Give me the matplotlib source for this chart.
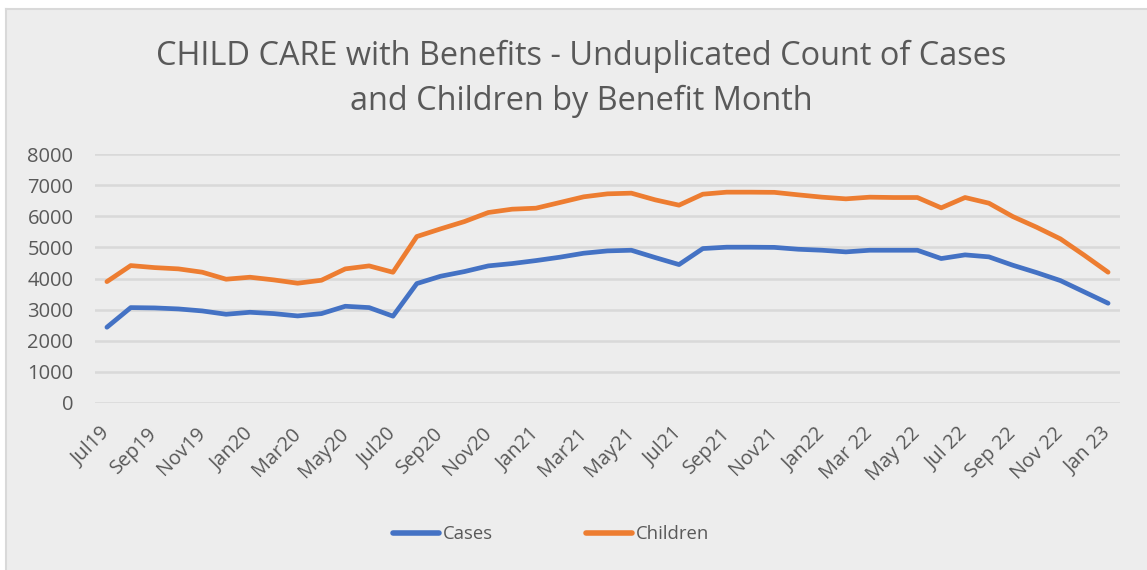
import matplotlib
matplotlib.use("Agg")
import matplotlib.pyplot as plt
from matplotlib.patches import Rectangle
from matplotlib.lines import Line2D
from matplotlib.transforms import ScaledTranslation

# Benefit months, Jul 2019 .. Jan 2023
months = [
    "Jul19", "Aug19", "Sep19", "Oct19", "Nov19", "Dec19",
    "Jan20", "Feb20", "Mar20", "Apr20", "May20", "Jun20",
    "Jul20", "Aug20", "Sep20", "Oct20", "Nov20", "Dec20",
    "Jan21", "Feb21", "Mar21", "Apr21", "May21", "Jun21",
    "Jul21", "Aug21", "Sep21", "Oct21", "Nov21", "Dec21",
    "Jan22", "Feb22", "Mar 22", "Apr 22", "May 22", "Jun 22",
    "Jul 22", "Aug 22", "Sep 22", "Oct 22", "Nov 22", "Dec 22",
    "Jan 23",
]

cases = [
    2434, 3065, 3055, 3022, 2958, 2851, 2915, 2872, 2797, 2872, 3108, 3065,
    2790, 3837, 4073, 4223, 4405, 4480, 4576, 4684, 4812, 4887, 4908, 4673,
    4448, 4962, 5006, 5006, 5000, 4940, 4908, 4855, 4908, 4908, 4908, 4641,
    4759, 4695, 4427, 4190, 3933, 3569, 3205,
]

children = [
    3900, 4415, 4350, 4309, 4202, 3977, 4041, 3955, 3848, 3944, 4309, 4405,
    4200, 5348, 5595, 5830, 6120, 6227, 6259, 6441, 6624, 6720, 6742, 6527,
    6356, 6709, 6774, 6774, 6768, 6688, 6613, 6559, 6613, 6602, 6602, 6270,
    6602, 6420, 5991, 5648, 5273, 4748, 4202,
]

title_lines = ["CHILD CARE with Benefits - Unduplicated Count of Cases",
               "and Children by Benefit Month"]
y_ticks = [0, 1000, 2000, 3000, 4000, 5000, 6000, 7000, 8000]

BLUE = "#4472C4"
ORANGE = "#ED7D31"
TEXT = "#595959"
GRID = "#D9D9D9"
BG = "#EDEDED"

plt.rcParams["font.family"] = ["Open Sans", "DejaVu Sans"]

W, H = 1147, 570
fig = plt.figure(figsize=(W / 100, H / 100), dpi=100)
fig.patch.set_facecolor("white")

# chart area panel with a thin border on the left and top
x0, y0 = 6 / W, 1 - 9 / H
fig.patches.append(Rectangle((x0, 0), 1 - x0, y0, transform=fig.transFigure,
                             facecolor=BG, edgecolor="none", zorder=-10))
fig.lines.append(Line2D([x0, x0], [0, y0], transform=fig.transFigure,
                        color=GRID, lw=1.5, zorder=-9))
fig.lines.append(Line2D([x0, 1], [y0, y0], transform=fig.transFigure,
                        color=GRID, lw=1.5, zorder=-9))

ax = fig.add_axes([95 / W, 1 - 403 / H, (1120 - 95) / W, (403 - 154) / H])
ax.patch.set_visible(False)

xs = list(range(len(months)))
ax.plot(xs, cases, color=BLUE, lw=3.4, solid_capstyle="round",
        solid_joinstyle="round", label="Cases", zorder=3)
ax.plot(xs, children, color=ORANGE, lw=3.4, solid_capstyle="round",
        solid_joinstyle="round", label="Children", zorder=3)

ax.set_xlim(-0.5, len(months) - 0.5)
ax.set_ylim(0, 8000)
ax.set_yticks(y_ticks)
ax.set_yticklabels([str(v) for v in y_ticks])
ax.yaxis.grid(True, color=GRID, lw=1.8)
ax.set_axisbelow(True)

ax.set_xticks(xs[::2])
ax.set_xticklabels(months[::2], rotation=45, ha="right", va="center",
                   rotation_mode="anchor")
shift = ScaledTranslation(2 / 100, 0, fig.dpi_scale_trans)
for lbl in ax.get_xticklabels():
    lbl.set_transform(lbl.get_transform() + shift)

for s in ax.spines.values():
    s.set_visible(False)
ax.tick_params(axis="both", length=0, colors=TEXT)
ax.tick_params(axis="y", labelsize=14.5, pad=15.5)
ax.tick_params(axis="x", labelsize=14.3, pad=20)

fig.text(581 / W, 1 - 65 / H, title_lines[0], ha="center", va="baseline",
         fontsize=23.4, color=TEXT)
fig.text(581 / W, 1 - 110 / H, title_lines[1], ha="center", va="baseline",
         fontsize=23.4, color=TEXT)

leg = fig.legend(loc="center", bbox_to_anchor=(551 / W, 1 - 534 / H), ncol=2,
                 frameon=False, fontsize=13.3, handlelength=2.5,
                 handletextpad=0.2, columnspacing=5.0)
for t in leg.get_texts():
    t.set_color(TEXT)
for ln in leg.get_lines():
    ln.set_linewidth(4)

fig.savefig("out.png", dpi=100, facecolor=fig.get_facecolor())
